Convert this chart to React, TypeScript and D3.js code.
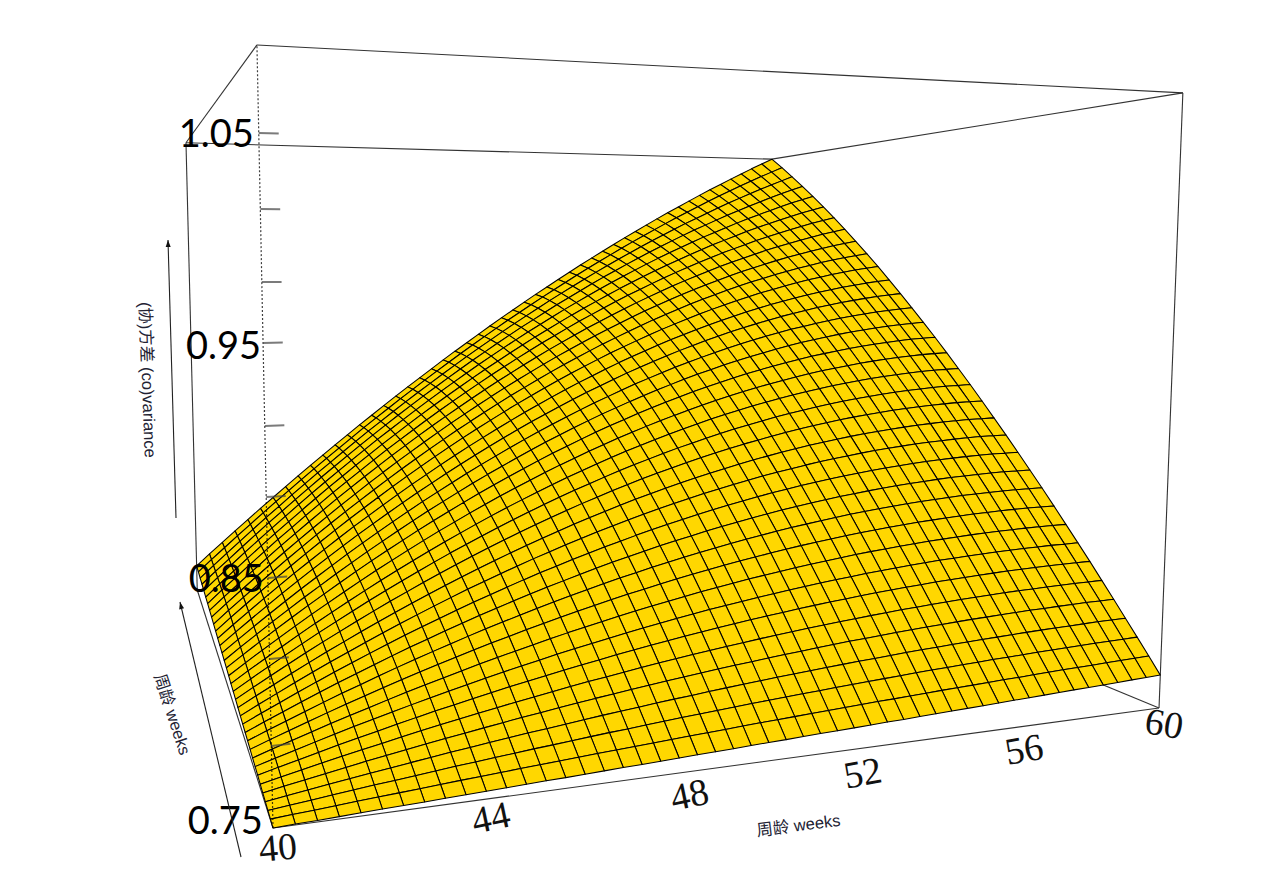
import React from "react";
import * as d3 from "d3";

// Covariance surface: columns run along the front axis, rows along the side axis.
// cov(c,r) = covBase + shared[c]*shared[r] + trend[c] + trend[r] + hump[c]*hump[r]
const covBase = 0.7467;
const columnWeeks = [
  40, 40.4, 40.8, 41.2, 41.6, 42, 42.4, 42.8, 43.2, 43.6,
  44, 44.4, 44.8, 45.2, 45.6, 46, 46.4, 46.8, 47.2, 47.6,
  48, 48.4, 48.8, 49.2, 49.6, 50, 50.4, 50.8, 51.2, 51.6,
  52, 52.4, 52.8, 53.2, 53.6, 54, 54.4, 54.8, 55.2, 55.6,
  56, 56.4, 56.8, 57.2, 57.6, 58, 58.4, 58.8, 59.2, 59.6, 60,
];
const columnShared = [
  0, .0147, .0292, .0436, .0578, .0719, .0858, .0996, .1132, .1267,
  .1400, .1531, .1661, .1790, .1917, .2042, .2166, .2288, .2409, .2528,
  .2646, .2762, .2877, .2990, .3102, .3212, .3320, .3427, .3533, .3637,
  .3739, .3840, .3940, .4038, .4134, .4229, .4322, .4414, .4504, .4593,
  .4680, .4765, .4849, .4932, .5013, .5093, .5171, .5247, .5322, .5395, .5467,
];
const columnTrend = [
  0, .0004, .0007, .0011, .0015, .0019, .0022, .0026, .0030, .0034,
  .0037, .0041, .0045, .0049, .0052, .0056, .0060, .0064, .0067, .0071,
  .0075, .0079, .0082, .0086, .0090, .0094, .0097, .0101, .0105, .0108,
  .0112, .0116, .0120, .0123, .0127, .0131, .0135, .0138, .0142, .0146,
  .0150, .0153, .0157, .0161, .0165, .0168, .0172, .0176, .0180, .0183, .0187,
];
const columnHump = [
  0, .0127, .0249, .0365, .0477, .0583, .0684, .0780, .0871, .0956,
  .1037, .1112, .1182, .1247, .1306, .1361, .1410, .1454, .1493, .1527,
  .1555, .1579, .1597, .1610, .1617, .1620, .1617, .1610, .1597, .1579,
  .1555, .1527, .1493, .1454, .1410, .1361, .1306, .1247, .1182, .1112,
  .1037, .0956, .0871, .0780, .0684, .0583, .0477, .0365, .0249, .0127, 0,
];
const rowWeeks = [
  40, 40.392, 40.796, 41.212, 41.638, 42.078, 42.53, 42.992, 43.468, 43.956,
  44.454, 44.964, 45.488, 46.022, 46.568, 47.128, 47.698, 48.28, 48.874, 49.48,
  50.098, 50.728, 51.37, 52.024, 52.69, 53.366, 54.056, 54.758, 55.47, 56.196,
  56.932, 57.682, 58.442, 59.216, 60,
];
const rowShared = [
  0, .0144, .0291, .0440, .0592, .0746, .0903, .1061, .1222, .1385,
  .1549, .1714, .1881, .2049, .2217, .2387, .2557, .2728, .2898, .3069,
  .3239, .3408, .3577, .3745, .3913, .4078, .4242, .4404, .4564, .4722,
  .4877, .5029, .5179, .5325, .5467,
];
const rowTrend = [
  0, .0004, .0007, .0011, .0015, .0019, .0024, .0028, .0032, .0037,
  .0042, .0046, .0051, .0056, .0061, .0067, .0072, .0077, .0083, .0089,
  .0094, .0100, .0106, .0112, .0119, .0125, .0131, .0138, .0145, .0151,
  .0158, .0165, .0172, .0180, .0187,
];
const rowHump = [
  0, .0124, .0248, .0369, .0487, .0603, .0716, .0825, .0929, .1028,
  .1121, .1209, .1290, .1364, .1429, .1486, .1534, .1572, .1599, .1616,
  .1620, .1611, .1590, .1554, .1503, .1437, .1354, .1253, .1135, .0998,
  .0842, .0664, .0465, .0244, 0,
];

const xTickValues = [40, 44, 48, 52, 56, 60];
const zLabelValues = [0.75, 0.85, 0.95, 1.05];
const zMarkValues = [0.7833, 0.8167, 0.85, 0.8833, 0.9167, 0.95, 0.9833, 1.0167, 1.05];
const zTickDomain = [0.75, 0.7833, 0.8167, 0.85, 0.8833, 0.9167, 0.95, 0.9833, 1.0167, 1.05];
const zTickRange = [.0107, .1096, .2246, .3305, .4353, .5262, .6314, .708, .7989, .8926];

const xTitle = "周龄 weeks";
const zTitle = "(协)方差 (co)variance";

const W = 1287, H = 894;
const uScale = d3.scaleLinear().domain([40, 60]).range([0, 1]);
const wScale = d3.scaleLinear().domain([covBase, 1.083]).range([0, 1]);
const tickScale = d3.scaleLinear().domain(zTickDomain).range(zTickRange);

// Perspective camera, unit cube to screen.
const project = (u: number, v: number, w: number): [number, number] => {
  const d = 1 + 0.269 * u + 0.74 * v - 0.05 * w;
  return [
    (273 + 1197.8 * u + 70.2 * v - 28.9 * w) / d,
    (828 + 70.5 * u + 198.6 * v - 785.3 * w) / d,
  ];
};
const line = d3.line<[number, number]>();
const seg = (a: number[], b: number[]) =>
  line([project(a[0], a[1], a[2]), project(b[0], b[1], b[2])]) as string;

const cov = (c: number, r: number) =>
  covBase + columnShared[c] * rowShared[r] + columnTrend[c] + rowTrend[r] + columnHump[c] * rowHump[r];

const cells: string[] = [];
for (let c = columnWeeks.length - 2; c >= 0; c--) {
  for (let r = rowWeeks.length - 2; r >= 0; r--) {
    const pts = [[c, r], [c + 1, r], [c + 1, r + 1], [c, r + 1]].map(([a, b]) =>
      project(uScale(columnWeeks[a]), uScale(rowWeeks[b]), wScale(cov(a, b)))
    );
    cells.push((line(pts as [number, number][]) as string) + "Z");
  }
}

const boxEdges = [
  [[0, 0, 0], [1, 0, 0]], [[1, 0, 0], [1, 1, 0]], [[1, 1, 0], [0, 1, 0]], [[0, 1, 0], [0, 0, 0]],
  [[0, 0, 1], [1, 0, 1]], [[1, 0, 1], [1, 1, 1]], [[1, 1, 1], [0, 1, 1]], [[0, 1, 1], [0, 0, 1]],
  [[1, 0, 0], [1, 0, 1]], [[0, 1, 0], [0, 1, 1]], [[1, 1, 0], [1, 1, 1]],
];

const xLabelLayout = [
  { dx: 6, dy: 32, r: -5 }, { dx: 7, dy: 31, r: -12 }, { dx: 13, dy: 34, r: -12 },
  { dx: 11, dy: 36, r: -10 }, { dx: 13, dy: 34, r: -10 }, { dx: 3, dy: 28, r: 10 },
];
const zLabelLayout = [
  { dx: -10, dy: 14 }, { dx: -4, dy: 14 }, { dx: -2, dy: 16 }, { dx: -5, dy: 14 },
];
const zFont = "Lato, 'Open Sans', sans-serif";
const titleFont = "'Liberation Sans', 'Noto Sans CJK SC', sans-serif";

const Arrow = ({ x1, y1, x2, y2 }: { x1: number; y1: number; x2: number; y2: number }) => {
  const a = Math.atan2(y2 - y1, x2 - x1);
  const L = 7, s = 2.5;
  const bx = x2 - L * Math.cos(a), by = y2 - L * Math.sin(a);
  const nx = -Math.sin(a) * s, ny = Math.cos(a) * s;
  return (
    <g>
      <line x1={x1} y1={y1} x2={x2} y2={y2} stroke="#222" strokeWidth={1.1} />
      <polygon points={`${x2},${y2} ${bx + nx},${by + ny} ${bx - nx},${by - ny}`} fill="#111" />
    </g>
  );
};

export default function App() {
  return (
    <svg width={W} height={H} style={{ position: "absolute", left: 0, top: 0, background: "#fff" }}>
      <g fill="none" stroke="#333" strokeWidth={1.1}>
        {boxEdges.map((e, i) => <path key={i} d={seg(e[0], e[1])} />)}
      </g>
      <g fill="#FFD700" stroke="#000" strokeWidth={1.05} strokeLinejoin="round">
        {cells.map((d, i) => <path key={i} d={d} />)}
      </g>
      <path d={seg([0, 0, 0], [0, 0, 1])} stroke="#000" strokeWidth={1.2} strokeDasharray="2 2" fill="none" opacity={0.75} />
      <g stroke="#444" strokeWidth={2} opacity={0.7}>
        {zMarkValues.map((z) => {
          const w = tickScale(z);
          return <path key={z} d={seg([0, 0, w], [0.017, 0, w])} />;
        })}
      </g>
      <g fontFamily={zFont} fontSize={38} fill="#000" textAnchor="end">
        {zLabelValues.map((z, i) => {
          const [x, y] = project(0, 0, tickScale(z));
          return <text key={z} x={x + zLabelLayout[i].dx} y={y + zLabelLayout[i].dy}>{z.toFixed(2)}</text>;
        })}
      </g>
      <g fontFamily="'Liberation Serif', serif" fontSize={38} fill="#111" textAnchor="middle">
        {xTickValues.map((t, i) => {
          const [x, y] = project(uScale(t), 0, 0);
          const l = xLabelLayout[i];
          return (
            <text key={t} transform={`translate(${x + l.dx},${y + l.dy}) rotate(${l.r})`}>{t}</text>
          );
        })}
      </g>
      <Arrow x1={176} y1={518} x2={168} y2={240} />
      <Arrow x1={241} y1={857} x2={180} y2={602} />
      <g fontFamily={titleFont} fontSize={16.5} fill="#223" textAnchor="middle">
        <text transform="translate(799,831) rotate(-7)">{xTitle}</text>
        <text transform="translate(167,716) rotate(72)">{xTitle}</text>
        <text transform="translate(142,380) rotate(88)">{zTitle}</text>
      </g>
    </svg>
  );
}
